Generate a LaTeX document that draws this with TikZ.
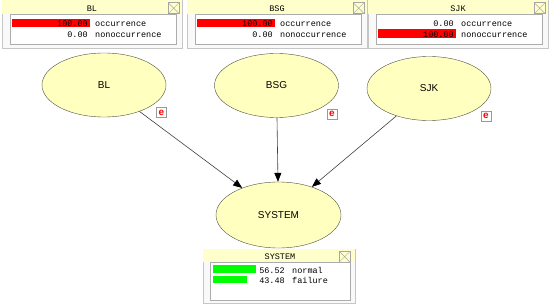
\documentclass[tikz,border=0pt]{standalone}
\usepackage{fontspec}
\setmainfont{Liberation Sans}
\setmonofont{Liberation Mono}
\usepackage{xcolor}
\definecolor{nodeFill}{RGB}{255,255,192}
\definecolor{nodeLine}{RGB}{80,80,64}
\definecolor{titleFill}{RGB}{255,255,204}
\definecolor{barRed}{RGB}{255,0,0}
\definecolor{barGreen}{RGB}{0,255,0}
\usepackage{tikz}
\usetikzlibrary{arrows.meta, positioning, shapes.geometric}
\tikzset{
	netnode/.style={ellipse, draw=nodeLine, fill=nodeFill, minimum width=124pt, minimum height=64pt, inner sep=0pt, font=\fontsize{10}{12}\selectfont},
	netarr/.style={-{Triangle[length=9pt, width=7pt, color=black]}, draw=black!75, line width=0.6pt},
	monframe/.style={draw=gray!45, fill=gray!5, anchor=north west, inner sep=0pt},
	montitle/.style={fill=titleFill, anchor=north west, inner sep=0pt},
	monbox/.style={draw=gray!65, fill=white, anchor=north west, inner sep=0pt},
	monname/.style={anchor=base, inner sep=0pt, font=\ttfamily\fontsize{8.5}{10}\selectfont},
	monval/.style={anchor=base east, inner sep=0pt, font=\ttfamily\fontsize{8.5}{10}\selectfont},
	monlab/.style={anchor=base west, inner sep=0pt, font=\ttfamily\fontsize{8.5}{10}\selectfont},
	closebox/.style={draw=gray!70, minimum size=11pt, inner sep=0pt, anchor=north west,
		path picture={\draw[gray!70] (path picture bounding box.north west) -- (path picture bounding box.south east)
			(path picture bounding box.north east) -- (path picture bounding box.south west);}},
	evbox/.style={draw=gray!80, fill=white, minimum size=10pt, inner sep=0pt, text=red, font=\bfseries\fontsize{10}{10}\selectfont},
}

\begin{document}
\begin{tikzpicture}[x=1pt, y=-1pt]
	\useasboundingbox (0,0) rectangle (550,305);
	\node[monframe, minimum width=180pt, minimum height=48pt] (fBL) at (2,0) {};
	\node[montitle, minimum width=180pt, minimum height=13.5pt] (tBL) at (2,0) {};
	\node[monname] (nBL) at (92,12) {BL};
	\node[closebox] (xBL) at (168,2.5) {};
	\node[monbox, minimum width=166pt, minimum height=30pt] (bBL) at (10,14.5) {};
	\fill[barRed] (12,19) rectangle (90,27.5);
	\node[monval] (vBL1) at (88,27) {100.00};
	\node[monlab] (lBL1) at (95,27) {occurrence};
	\node[monval] (vBL2) at (88,37.5) {0.00};
	\node[monlab] (lBL2) at (95,37.5) {nonoccurrence};

	\node[monframe, minimum width=180pt, minimum height=48pt] (fBSG) at (187,0) {};
	\node[montitle, minimum width=180pt, minimum height=13.5pt] (tBSG) at (187,0) {};
	\node[monname] (nBSG) at (277,12) {BSG};
	\node[closebox] (xBSG) at (353,2.5) {};
	\node[monbox, minimum width=166pt, minimum height=30pt] (bBSG) at (195,14.5) {};
	\fill[barRed] (197,19) rectangle (275,27.5);
	\node[monval] (vBSG1) at (273,27) {100.00};
	\node[monlab] (lBSG1) at (280,27) {occurrence};
	\node[monval] (vBSG2) at (273,37.5) {0.00};
	\node[monlab] (lBSG2) at (280,37.5) {nonoccurrence};

	\node[monframe, minimum width=180pt, minimum height=48pt] (fSJK) at (368,0) {};
	\node[montitle, minimum width=180pt, minimum height=13.5pt] (tSJK) at (368,0) {};
	\node[monname] (nSJK) at (458,12) {SJK};
	\node[closebox] (xSJK) at (534,2.5) {};
	\node[monbox, minimum width=166pt, minimum height=30pt] (bSJK) at (376,14.5) {};
	\fill[barRed] (378,29.5) rectangle (456,38);
	\node[monval] (vSJK1) at (454,27) {0.00};
	\node[monlab] (lSJK1) at (461,27) {occurrence};
	\node[monval] (vSJK2) at (454,37.5) {100.00};
	\node[monlab] (lSJK2) at (461,37.5) {nonoccurrence};

	\node[netnode] (BL) at (104,85) {BL};
	\node[netnode] (BSG) at (276.5,85.5) {BSG};
	\node[netnode] (SJK) at (429,88.5) {SJK};
	\node[netnode, minimum width=125pt, minimum height=66pt] (SYSTEM) at (278.5,215) {SYSTEM};
	\node[evbox] (eBL) at (161.5,112.5) {e};
	\node[evbox] (eBSG) at (332,114) {e};
	\node[evbox] (eSJK) at (486,116) {e};
	\draw[netarr] (BL) -- (SYSTEM);
	\draw[netarr] (BSG) -- (SYSTEM);
	\draw[netarr] (SJK) -- (SYSTEM);

	\node[monframe, minimum width=152pt, minimum height=54pt] (fSYS) at (203,249) {};
	\node[montitle, minimum width=152pt, minimum height=13pt] (tSYS) at (203,249) {};
	\node[monname] (nSYS) at (280,259.5) {SYSTEM};
	\node[closebox] (xSYS) at (339,251) {};
	\node[monbox, minimum width=140pt, minimum height=38pt] (bSYS) at (210,262) {};
	\fill[barGreen] (213,265) rectangle (256,273);
	\fill[barGreen] (213,276) rectangle (247,283);
	\node[monval] (vSYS1) at (285,273.3) {56.52};
	\node[monlab] (lSYS1) at (292,273.3) {normal};
	\node[monval] (vSYS2) at (285,283.5) {43.48};
	\node[monlab] (lSYS2) at (292,283.5) {failure};
\end{tikzpicture}
\end{document}
